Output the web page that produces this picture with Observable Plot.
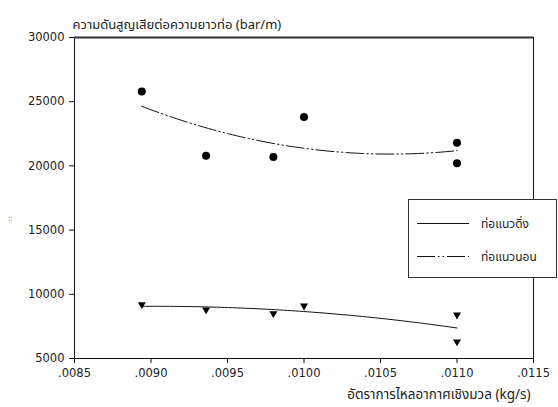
<!DOCTYPE html>
<html>
<head>
<meta charset="utf-8">
<script src="https://cdn.jsdelivr.net/npm/d3@7"></script>
<script src="https://cdn.jsdelivr.net/npm/@observablehq/plot@0.6"></script>
<style>
  body { margin: 0; background: #fff; }
  #chart { width: 558px; height: 407px; }
</style>
</head>
<body>
<div id="chart"></div>
<script>
// Mass air flow rate (kg/s) of each test point
const flowRate = [0.00894, 0.00936, 0.0098, 0.0100, 0.0110, 0.0110];
// Pressure loss per pipe length (bar/m)
const horizontalLoss = [25800, 20800, 20700, 23800, 21800, 20200];
const verticalLoss = [9200, 8800, 8500, 9100, 8400, 6300];

const xTicks = [0.0085, 0.0090, 0.0095, 0.0100, 0.0105, 0.0110, 0.0115];
const yTicks = [5000, 10000, 15000, 20000, 25000, 30000];

const titleText = "ความดันสูญเสียต่อความยาวท่อ (bar/m)";
const xLabelText = "อัตราการไหลอากาศเชิงมวล (kg/s)";
const yLabelText = "ะ ะ";
const seriesNames = ["ท่อแนวดิ่ง", "ท่อแนวนอน"];

const thaiFont = "'Noto Sans Thai', 'Noto Sans Thai Looped', Loma, Garuda, 'DejaVu Sans', sans-serif";

// Least-squares quadratic trend through the measured points
function quadFit(xs, ys) {
  const m = d3.mean(xs), k = 1e4;
  const u = xs.map(x => (x - m) * k);
  const S = p => d3.sum(u, v => v ** p);
  const T = p => d3.sum(u, (v, i) => v ** p * ys[i]);
  const A = [[u.length, S(1), S(2)], [S(1), S(2), S(3)], [S(2), S(3), S(4)]];
  const b = [T(0), T(1), T(2)];
  for (let i = 0; i < 3; i++) {
    for (let j = i + 1; j < 3; j++) {
      const f = A[j][i] / A[i][i];
      for (let c = i; c < 3; c++) A[j][c] -= f * A[i][c];
      b[j] -= f * b[i];
    }
  }
  const c = [0, 0, 0];
  for (let i = 2; i >= 0; i--) {
    let s = b[i];
    for (let q = i + 1; q < 3; q++) s -= A[i][q] * c[q];
    c[i] = s / A[i][i];
  }
  return x => { const v = (x - m) * k; return c[0] + c[1] * v + c[2] * v * v; };
}

const x0 = d3.min(flowRate), x1 = d3.max(flowRate);
const xs = d3.range(81).map(i => x0 + (x1 - x0) * i / 80);
const fitH = quadFit(flowRate, horizontalLoss);
const fitV = quadFit(flowRate, verticalLoss);
const curveH = xs.map(x => ({x, y: fitH(x)}));
const curveV = xs.map(x => ({x, y: fitV(x)}));

const horizontal = flowRate.map((x, i) => ({x, y: horizontalLoss[i]}));
const vertical = flowRate.map((x, i) => ({x, y: verticalLoss[i]}));

// Downward-pointing filled triangle
const triangleDown = {
  draw(ctx, size) {
    const r = Math.sqrt(size / Math.PI);
    const a = 2 * r, h = 0.85 * a;
    ctx.moveTo(-a / 2, -h / 3);
    ctx.lineTo(a / 2, -h / 3);
    ctx.lineTo(0, 2 * h / 3);
    ctx.closePath();
  }
};

const dashDotDot = "18,3,1.5,3,1.5,3";

const chart = Plot.plot({
  width: 558,
  height: 407,
  marginLeft: 74,
  marginRight: 25,
  marginTop: 37,
  marginBottom: 49,
  style: {fontFamily: "'DejaVu Sans', sans-serif", fontSize: "11.5px", color: "#222", background: "#fff"},
  x: {domain: [0.0085, 0.0115]},
  y: {domain: [5000, 30000]},
  marks: [
    Plot.frame({stroke: "#111", strokeWidth: 1}),
    Plot.ruleY([30000], {stroke: "#333", strokeWidth: 2}),
    Plot.axisX({ticks: xTicks, tickFormat: d => d3.format(".4f")(d).replace(/^0/, ""), tickSize: 5, tickPadding: 5, label: null, stroke: "#111"}),
    Plot.axisY({ticks: yTicks, tickFormat: d => String(d), tickSize: 5, tickPadding: 5, label: null, stroke: "#111"}),
    Plot.line(curveV, {x: "x", y: "y", stroke: "#111", strokeWidth: 1}),
    Plot.line(curveH, {x: "x", y: "y", stroke: "#111", strokeWidth: 1, strokeDasharray: dashDotDot}),
    Plot.dot(horizontal, {x: "x", y: "y", r: 4, fill: "#000", stroke: "none"}),
    Plot.dot(vertical, {x: "x", y: "y", r: 4, symbol: triangleDown, fill: "#000", stroke: "none"}),
    Plot.text([titleText], {frameAnchor: "top-left", dx: -2, dy: -18, fontSize: 13, fill: "#222", fontFamily: thaiFont}),
    Plot.text([xLabelText], {frameAnchor: "bottom-right", dx: -3, dy: 40, fontSize: 13.5, fill: "#222", fontFamily: thaiFont}),
    Plot.text([yLabelText], {frameAnchor: "left", dx: -64, dy: 23, rotate: -90, fontSize: 5, fill: "#444", fontFamily: thaiFont})
  ]
});

document.getElementById("chart").appendChild(chart);

// Legend box drawn over the plot's right edge
const svg = d3.select(chart);
const lg = svg.append("g").attr("font-family", thaiFont).attr("font-size", 12)
  .attr("fill", "#222").attr("text-anchor", "start");
lg.append("rect").attr("x", 408.5).attr("y", 199.5).attr("width", 148).attr("height", 78)
  .attr("fill", "#fff").attr("stroke", "#333").attr("stroke-width", 1);
const rows = [{name: seriesNames[0], dash: null, y: 223.5}, {name: seriesNames[1], dash: dashDotDot, y: 256.5}];
rows.forEach(r => {
  lg.append("line").attr("x1", 417).attr("x2", 469).attr("y1", r.y).attr("y2", r.y)
    .attr("stroke", "#111").attr("stroke-width", 1).attr("stroke-dasharray", r.dash);
  lg.append("text").attr("x", 481).attr("y", r.y).attr("dy", "0.35em").text(r.name);
});
</script>
</body>
</html>
